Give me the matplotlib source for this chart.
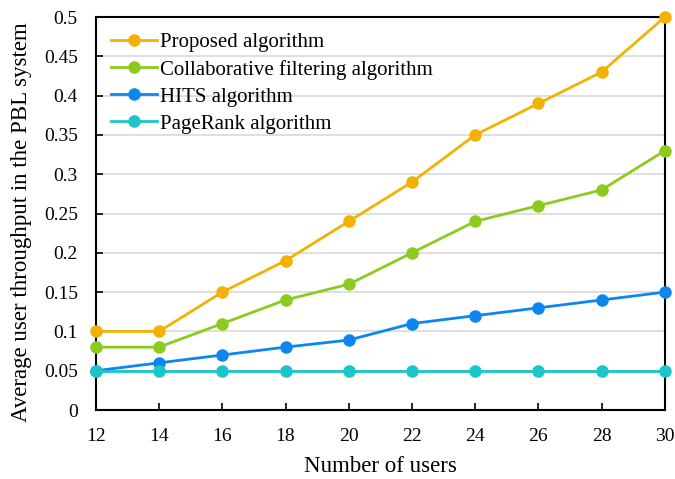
import matplotlib.pyplot as plt

plt.rcParams['font.family'] = ['Liberation Serif', 'DejaVu Serif']

users = [12, 14, 16, 18, 20, 22, 24, 26, 28, 30]
proposed = [0.10, 0.10, 0.15, 0.19, 0.24, 0.29, 0.35, 0.39, 0.43, 0.50]
collab = [0.08, 0.08, 0.11, 0.14, 0.16, 0.20, 0.24, 0.26, 0.28, 0.33]
hits = [0.05, 0.06, 0.07, 0.08, 0.089, 0.11, 0.12, 0.13, 0.14, 0.15]
pagerank = [0.05, 0.05, 0.05, 0.05, 0.05, 0.05, 0.05, 0.05, 0.05, 0.05]

series = [
    (proposed, 'Proposed algorithm', '#F2B203'),
    (collab, 'Collaborative filtering algorithm', '#8CCB1E'),
    (hits, 'HITS algorithm', '#0D86F0'),
    (pagerank, 'PageRank algorithm', '#1BC5C8'),
]

fig = plt.figure(figsize=(6.75, 4.79), dpi=100)
ax = fig.add_axes([0.142, 0.144, 0.843, 0.8205])

for vals, name, col in series:
    ax.plot(users, vals, '-o', color=col, lw=2, ms=8, label=name, clip_on=False, zorder=3)

ax.set_xlim(12, 30)
ax.set_ylim(0, 0.5)
ax.set_xticks(users)
yt = [i * 0.05 for i in range(11)]
ax.set_yticks(yt)
ax.set_yticklabels(['0', '0.05', '0.1', '0.15', '0.2', '0.25', '0.3', '0.35', '0.4', '0.45', '0.5'])
ax.yaxis.grid(True, color='#d9d9d9', lw=1.2)
ax.set_axisbelow(True)
ax.tick_params(direction='in', labelsize=14, length=5, width=1.2)
ax.tick_params(axis='x', pad=13)
ax.tick_params(axis='y', pad=13)
for s in ax.spines.values():
    s.set_linewidth(1.5)
    s.set_color('black')

ax.set_xlabel('Number of users', fontsize=16.5, labelpad=8)
ax.set_ylabel('Average user throughput in the PBL system', fontsize=16.5)
ax.yaxis.set_label_coords(-0.112, 0.478)
ax.legend(loc='upper left', frameon=False, fontsize=15, labelspacing=0.36,
          handlelength=2.2, handletextpad=0.12, borderaxespad=0.45, borderpad=0.3)

plt.savefig('out.png')
